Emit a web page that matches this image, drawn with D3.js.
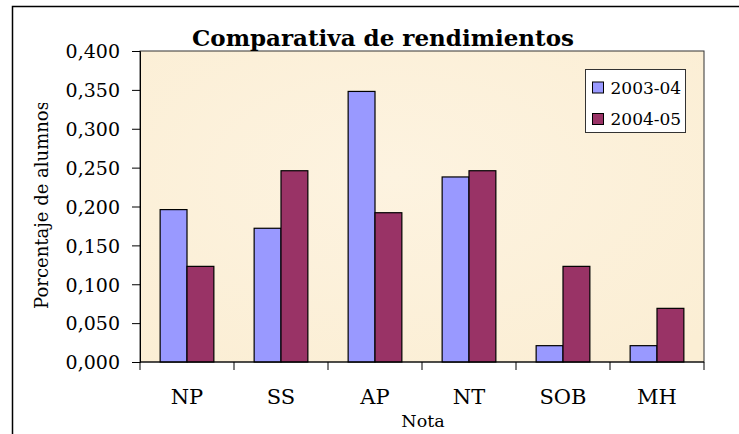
<!DOCTYPE html>
<html>
<head>
<meta charset="utf-8">
<script src="https://cdn.jsdelivr.net/npm/d3@7"></script>
<style>
  body { margin: 0; background: #fff; }
  svg text { font-family: "DejaVu Serif", serif !important; fill: #000; }
</style>
</head>
<body>
<div class="app"></div>
<script>
// chart data
var categories = ["NP", "SS", "AP", "NT", "SOB", "MH"];
var seriesNames = ["2003-04", "2004-05"];
var values0304 = [0.196, 0.172, 0.348, 0.238, 0.021, 0.021];
var values0405 = [0.123, 0.246, 0.192, 0.246, 0.123, 0.069];
var yTicks = [0, 0.05, 0.1, 0.15, 0.2, 0.25, 0.3, 0.35, 0.4];
var colors = ["#9999FF", "#993366"];

var width = 739, height = 434;
var margin = {top: 51, right: 35, bottom: 72, left: 140};
var innerW = width - margin.left - margin.right,
    innerH = height - margin.top - margin.bottom;

var svg = d3.select(".app").append("svg")
    .attr("width", width)
    .attr("height", height);

// outer frame (only top and left visible)
svg.append("rect")
    .attr("x", 12.5).attr("y", 6.5)
    .attr("width", 760).attr("height", 460)
    .attr("fill", "none")
    .attr("stroke", "#000")
    .attr("stroke-width", 1.5);

var g = svg.append("g")
    .attr("transform", "translate(" + margin.left + "," + margin.top + ")");

// scales
var x = d3.scaleBand().domain(categories).range([0, innerW]);
var x1 = d3.scaleBand().domain(seriesNames).range([0, x.bandwidth()])
    .paddingOuter(0.75).paddingInner(0);
var y = d3.scaleLinear().domain([0, 0.4]).range([innerH, 0]);

// plot background
var defs = svg.append("defs");
var grad = defs.append("radialGradient").attr("id", "bg")
    .attr("cx", "45%").attr("cy", "40%").attr("r", "75%");
grad.append("stop").attr("offset", "0%").attr("stop-color", "#FDF3E0");
grad.append("stop").attr("offset", "100%").attr("stop-color", "#FBEED4");

g.append("rect")
    .attr("width", innerW).attr("height", innerH)
    .attr("fill", "url(#bg)")
    .attr("stroke", "#333")
    .attr("stroke-width", 1);

// bars
var rows = categories.map(function(c, i) {
  return {cat: c, vals: [values0304[i], values0405[i]]};
});

var groups = g.selectAll(".grp").data(rows).enter().append("g")
    .attr("transform", function(d) { return "translate(" + x(d.cat) + ",0)"; });

groups.selectAll("rect").data(function(d) {
    return d.vals.map(function(v, k) { return {s: seriesNames[k], v: v, k: k}; });
  })
  .enter().append("rect")
    .attr("x", function(d) { return x1(d.s); })
    .attr("y", function(d) { return y(d.v); })
    .attr("width", x1.bandwidth())
    .attr("height", function(d) { return innerH - y(d.v); })
    .attr("fill", function(d) { return colors[d.k]; })
    .attr("stroke", "#000")
    .attr("stroke-width", 1.2);

// y axis
var fmt = function(d) { return d3.format(".3f")(d).replace(".", ","); };
var yAxis = g.append("g")
    .call(d3.axisLeft(y).tickValues(yTicks).tickFormat(fmt).tickSize(8).tickPadding(12));
yAxis.select(".domain").attr("stroke", "#000");
yAxis.selectAll("text").style("font-size", "19px").attr("dy", "0.36em");

// x axis with ticks at category boundaries
var xAxis = g.append("g").attr("transform", "translate(0," + innerH + ")");
xAxis.append("line").attr("x1", 0).attr("x2", innerW).attr("stroke", "#000");
xAxis.selectAll(".tk").data(d3.range(categories.length + 1)).enter().append("line")
    .attr("x1", function(i) { return i * x.step(); })
    .attr("x2", function(i) { return i * x.step(); })
    .attr("y1", 0).attr("y2", 8)
    .attr("stroke", "#000");
xAxis.selectAll(".lbl").data(categories).enter().append("text")
    .attr("x", function(d) { return x(d) + x.bandwidth() / 2; })
    .attr("y", 42)
    .attr("text-anchor", "middle")
    .style("font-size", "21px")
    .text(function(d) { return d; });

// title
svg.append("text")
    .attr("x", 383).attr("y", 46)
    .attr("text-anchor", "middle")
    .style("font-size", "23px")
    .style("font-weight", "bold")
    .text("Comparativa de rendimientos");

// axis titles
defs.append("clipPath").attr("id", "ylab")
  .append("rect").attr("x", 0).attr("y", 103).attr("width", 100).attr("height", 300);
svg.append("g").attr("clip-path", "url(#ylab)")
  .append("text")
    .attr("transform", "translate(48,205)rotate(-90)")
    .attr("text-anchor", "middle")
    .style("font-size", "18px")
    .text("Porcentaje de alumnos");

svg.append("text")
    .attr("x", 423).attr("y", 427)
    .attr("text-anchor", "middle")
    .style("font-size", "17.5px")
    .text("Nota");

// legend
var legend = svg.append("g").attr("transform", "translate(585.5,69.5)");
legend.append("rect")
    .attr("width", 100).attr("height", 63)
    .attr("fill", "#fff")
    .attr("stroke", "#333");
seriesNames.forEach(function(s, i) {
  var row = legend.append("g").attr("transform", "translate(7," + (18 + i * 31.5) + ")");
  row.append("rect")
      .attr("x", 0).attr("y", -5.5).attr("width", 11).attr("height", 11)
      .attr("fill", colors[i]).attr("stroke", "#000");
  row.append("text")
      .attr("x", 18).attr("dy", "0.36em")
      .style("font-size", "17px")
      .text(s);
});
</script>
</body>
</html>
